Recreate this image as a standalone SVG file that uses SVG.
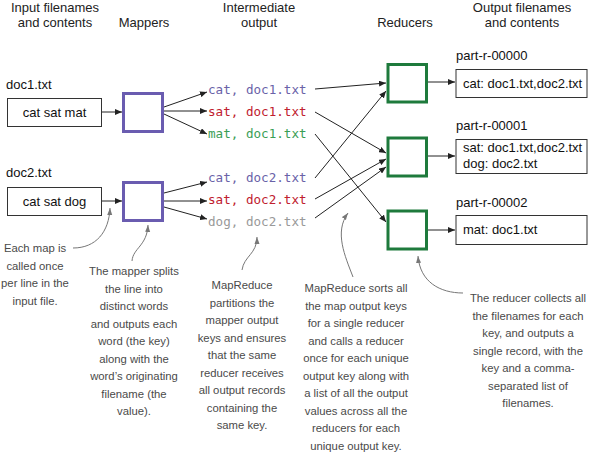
<svg xmlns="http://www.w3.org/2000/svg" width="590" height="456" viewBox="0 0 590 456">
<style>
.hdr{font-family:"Liberation Sans",Arial,sans-serif;font-size:13px;fill:#222;text-anchor:middle}
.lbl{font-family:"Liberation Sans",Arial,sans-serif;font-size:13px;fill:#111}
.box{fill:#fff;stroke:#333;stroke-width:1}
.map{fill:#fff;stroke:#6a5cb0;stroke-width:3}
.red{fill:#fff;stroke:#1e7a3c;stroke-width:3}
.kv{font-family:"DejaVu Sans Mono","Liberation Mono",monospace;font-size:12.6px}
.note{font-family:"Liberation Sans",Arial,sans-serif;font-size:11.3px;fill:#4a4a4a;text-anchor:middle}
.con line{stroke:#222;stroke-width:1;marker-end:url(#ah)}
.ann path{fill:none;stroke:#777;stroke-width:1;marker-end:url(#ga)}
</style>
<defs>
<marker id="ah" markerUnits="userSpaceOnUse" markerWidth="8" markerHeight="6" refX="7" refY="3" orient="auto">
<path d="M0,0 L7,3 L0,6 z" fill="#222"/>
</marker>
<marker id="ga" markerUnits="userSpaceOnUse" markerWidth="8" markerHeight="6" refX="7" refY="3" orient="auto">
<path d="M0,0.5 L7,3 L0,5.5 z" fill="#777"/>
</marker>
</defs>
<rect width="590" height="456" fill="#fff"/>

<g id="headers">
<text class="hdr" x="55" y="12">Input filenames</text>
<text class="hdr" x="55" y="27">and contents</text>
<text class="hdr" x="144" y="27">Mappers</text>
<text class="hdr" x="259" y="12">Intermediate</text>
<text class="hdr" x="259" y="27">output</text>
<text class="hdr" x="405" y="27">Reducers</text>
<text class="hdr" x="522" y="12">Output filenames</text>
<text class="hdr" x="522" y="27">and contents</text>
</g>

<g id="input1">
<text class="lbl" x="6" y="89">doc1.txt</text>
<rect class="box" x="7.5" y="98.5" width="94" height="28"/>
<text class="lbl" x="54.5" y="117" text-anchor="middle">cat sat mat</text>
</g>
<g id="input2">
<text class="lbl" x="6" y="177">doc2.txt</text>
<rect class="box" x="7.5" y="187.5" width="94" height="28"/>
<text class="lbl" x="54.5" y="206" text-anchor="middle">cat sat dog</text>
</g>

<g id="mapper1"><rect class="map" x="123.5" y="93.5" width="39" height="38"/></g>
<g id="mapper2"><rect class="map" x="123.5" y="182.5" width="39" height="38"/></g>

<g id="intermediate">
<text class="kv" x="208" y="93.5" fill="#6a62a8">cat, doc1.txt</text>
<text class="kv" x="208" y="115.5" fill="#c0202e">sat, doc1.txt</text>
<text class="kv" x="208" y="137.5" fill="#3a9e55">mat, doc1.txt</text>
<text class="kv" x="208" y="181.5" fill="#6a62a8">cat, doc2.txt</text>
<text class="kv" x="208" y="203.5" fill="#c0202e">sat, doc2.txt</text>
<text class="kv" x="208" y="225.5" fill="#999">dog, doc2.txt</text>
</g>

<g id="reducer1"><rect class="red" x="388" y="64.5" width="38.5" height="37.5"/></g>
<g id="reducer2"><rect class="red" x="388" y="138" width="38.5" height="38"/></g>
<g id="reducer3"><rect class="red" x="388" y="211" width="38.5" height="38"/></g>

<g id="output1">
<text class="lbl" x="456" y="60">part-r-00000</text>
<rect class="box" x="456" y="69.5" width="131" height="28"/>
<text class="lbl" x="463" y="88">cat: doc1.txt,doc2.txt</text>
</g>
<g id="output2">
<text class="lbl" x="456" y="130">part-r-00001</text>
<rect class="box" x="456" y="139.5" width="131" height="34"/>
<text class="lbl" x="463" y="152">sat: doc1.txt,doc2.txt</text>
<text class="lbl" x="463" y="168">dog: doc2.txt</text>
</g>
<g id="output3">
<text class="lbl" x="456" y="207">part-r-00002</text>
<rect class="box" x="456" y="215.5" width="131" height="29"/>
<text class="lbl" x="463" y="234">mat: doc1.txt</text>
</g>

<g id="connectors" class="con">
<line x1="102" y1="112" x2="122" y2="112"/>
<line x1="102" y1="201" x2="122" y2="201"/>
<line x1="164" y1="107" x2="207" y2="92"/>
<line x1="164" y1="111" x2="207" y2="111"/>
<line x1="164" y1="114" x2="207" y2="134"/>
<line x1="164" y1="193" x2="207" y2="182"/>
<line x1="164" y1="201" x2="207" y2="201"/>
<line x1="164" y1="207" x2="207" y2="219"/>
<line x1="315" y1="89" x2="386" y2="83"/>
<line x1="315" y1="112" x2="386" y2="153"/>
<line x1="315" y1="134" x2="386" y2="222"/>
<line x1="315" y1="178" x2="386" y2="91"/>
<line x1="315" y1="199" x2="386" y2="159"/>
<line x1="315" y1="218" x2="386" y2="167"/>
<line x1="428" y1="82" x2="455" y2="82"/>
<line x1="428" y1="156" x2="455" y2="156"/>
<line x1="428" y1="230" x2="455" y2="230"/>
</g>

<g id="annotation-arrows" class="ann">
<path d="M73,248 C96,248 109,232 110,208"/>
<path d="M132,261 C133,248 147,246 148,225"/>
<path d="M242,270 C244,256 257,254 257,237"/>
<path d="M353,277 C345,256 334,232 348,213"/>
<path d="M463,293 C440,293 420,282 418,256"/>
</g>

<g id="note-map">
<text class="note" x="35" y="252">Each map is</text>
<text class="note" x="35" y="269.5">called once</text>
<text class="note" x="35" y="287">per line in the</text>
<text class="note" x="35" y="304.5">input file.</text>
</g>
<g id="note-mapper">
<text class="note" x="134" y="275">The mapper splits</text>
<text class="note" x="134" y="292.5">the line into</text>
<text class="note" x="134" y="310">distinct words</text>
<text class="note" x="134" y="327.5">and outputs each</text>
<text class="note" x="134" y="345">word (the key)</text>
<text class="note" x="134" y="362.5">along with the</text>
<text class="note" x="134" y="380">word’s originating</text>
<text class="note" x="134" y="397.5">filename (the</text>
<text class="note" x="134" y="415">value).</text>
</g>
<g id="note-partition">
<text class="note" x="242" y="289">MapReduce</text>
<text class="note" x="242" y="306.5">partitions the</text>
<text class="note" x="242" y="324">mapper output</text>
<text class="note" x="242" y="341.5">keys and ensures</text>
<text class="note" x="242" y="359">that the same</text>
<text class="note" x="242" y="376.5">reducer receives</text>
<text class="note" x="242" y="394">all output records</text>
<text class="note" x="242" y="411.5">containing the</text>
<text class="note" x="242" y="429">same key.</text>
</g>
<g id="note-sort">
<text class="note" x="356" y="292">MapReduce sorts all</text>
<text class="note" x="356" y="309.5">the map output keys</text>
<text class="note" x="356" y="327">for a single reducer</text>
<text class="note" x="356" y="344.5">and calls a reducer</text>
<text class="note" x="356" y="362">once for each unique</text>
<text class="note" x="356" y="379.5">output key along with</text>
<text class="note" x="356" y="397">a list of all the output</text>
<text class="note" x="356" y="414.5">values across all the</text>
<text class="note" x="356" y="432">reducers for each</text>
<text class="note" x="356" y="449.5">unique output key.</text>
</g>
<g id="note-reducer">
<text class="note" x="528" y="302">The reducer collects all</text>
<text class="note" x="528" y="319.5">the filenames for each</text>
<text class="note" x="528" y="337">key, and outputs a</text>
<text class="note" x="528" y="354.5">single record, with the</text>
<text class="note" x="528" y="372">key and a comma-</text>
<text class="note" x="528" y="389.5">separated list of</text>
<text class="note" x="528" y="407">filenames.</text>
</g>
</svg>
